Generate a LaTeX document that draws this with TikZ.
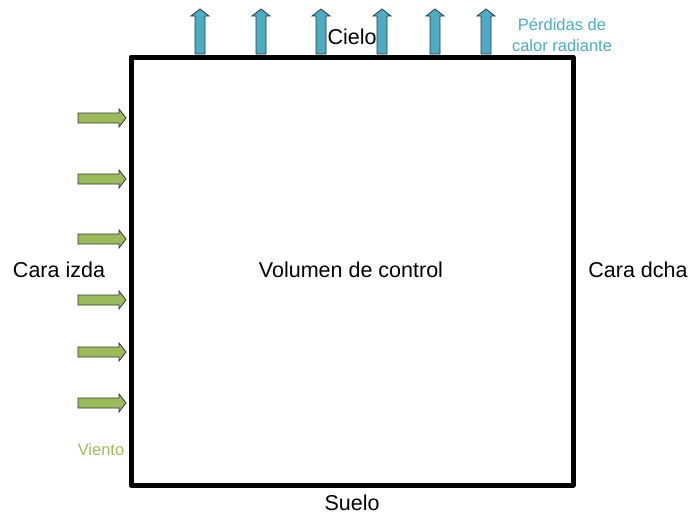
\documentclass[tikz,border=0pt]{standalone}
\usepackage{fontspec}
\setmainfont{Liberation Sans}
\definecolor{windgreen}{HTML}{9BBB59}
\definecolor{heatblue}{HTML}{4BACC6}
\definecolor{outl}{HTML}{2E3A40}
\begin{document}
\begin{tikzpicture}[x=1pt,y=-1pt,
  lbl/.style={inner sep=0pt,font=\fontsize{21.5}{25}\selectfont},
  smalllbl/.style={inner sep=0pt,font=\fontsize{16.5}{21}\selectfont,align=center},
  blueshape/.style={fill=heatblue,draw=outl,line width=0.8pt,line join=miter},
  greenshape/.style={fill=windgreen,draw=outl,line width=0.8pt,line join=miter},
  cvbox/.style={draw=black,line width=5pt,line join=round}]
\useasboundingbox (0,0) rectangle (691,515);
% control volume
\draw[cvbox] (131,57) rectangle (573,485);
% radiant heat loss arrows
\foreach \x in {200,261,321,382,435,486}{
  \draw[blueshape] (\x-5,54) -- (\x-5,16) -- (\x-9,16) -- (\x,9) -- (\x+9,16) -- (\x+5,16) -- (\x+5,54) -- cycle;
}
% wind arrows
\foreach \y in {118,179,239,300,352,403}{
  \draw[greenshape] (78,\y-5) -- (119,\y-5) -- (119,\y-9) -- (126,\y) -- (119,\y+9) -- (119,\y+5) -- (78,\y+5) -- cycle;
}
% labels
\node[lbl] (cielo) at (352,37) {Cielo};
\node[lbl] (suelo) at (352,503) {Suelo};
\node[lbl] (izda) at (59,270) {Cara izda};
\node[lbl] (dcha) at (638,270) {Cara dcha};
\node[lbl] (vol) at (351,270) {Volumen de control};
\node[smalllbl,text=heatblue] (perd) at (562,35) {Pérdidas de\\calor radiante};
\node[smalllbl,text=windgreen] (viento) at (101,450) {Viento};
\end{tikzpicture}
\end{document}
